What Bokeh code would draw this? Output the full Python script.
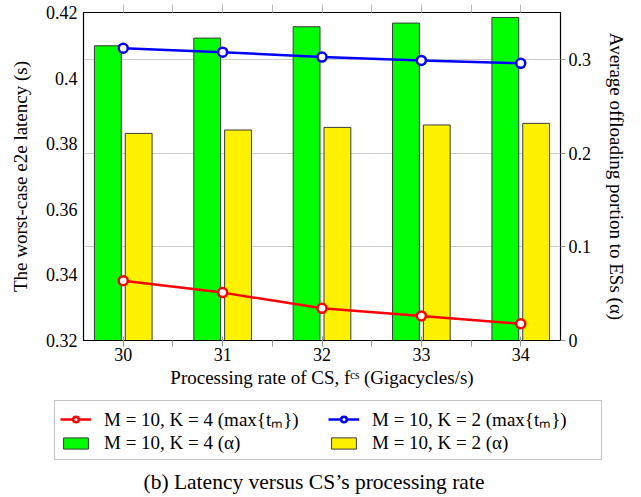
import math
from bokeh.plotting import figure
from bokeh.layouts import column
from bokeh.models import (Range1d, LinearAxis, Grid, Legend, LegendItem, Label,
                          FixedTicker, ColumnDataSource, CustomJSTickFormatter)
from bokeh.transform import dodge
from bokeh.embed import file_html
from bokeh.resources import INLINE

# ---- data ----
rates = [30, 31, 32, 33, 34]
latency_k4 = [0.3382, 0.3346, 0.3298, 0.3275, 0.3251]
latency_k2 = [0.4091, 0.4079, 0.4064, 0.4054, 0.4045]
alpha_k4 = [0.3145, 0.3227, 0.3348, 0.3387, 0.3447]
alpha_k2 = [0.2210, 0.2246, 0.2274, 0.2300, 0.2317]
left_ticks = [0.32, 0.34, 0.36, 0.38, 0.40, 0.42]
right_ticks = [0, 0.1, 0.2, 0.3]
x_ticks = rates
x_minor_ticks = [30.5, 31.5, 32.5, 33.5]
labels = ["M = 10, K = 4 (max{tₘ})", "M = 10, K = 2 (max{tₘ})",
          "M = 10, K = 4 (α)", "M = 10, K = 2 (α)"]
x_label = "Processing rate of CS, fᶜˢ (Gigacycles/s)"
y_label = "The worst-case e2e latency (s)"
y2_label = "Average offloading portion to ESs (α)"
caption = "(b) Latency versus CS’s processing rate"

FONT = "Liberation Serif"
TICK_FS = "18px"
LABEL_FS = "19px"
RED, BLUE, GREEN, YELLOW, EDGE = "#ff0000", "#0000ff", "#00ff00", "#fff200", "#3a3a3a"

src = ColumnDataSource(dict(rate=rates, lat4=latency_k4, lat2=latency_k2,
                            a4=alpha_k4, a2=alpha_k2))

p = figure(frame_width=477, frame_height=328, output_backend="svg", toolbar_location=None,
           x_range=Range1d(29.6, 34.4), y_range=Range1d(0.32, 0.42),
           min_border_left=83, min_border_right=81, min_border_top=12,
           min_border_bottom=55, x_axis_location=None, y_axis_location=None)
p.extra_y_ranges = {"right": Range1d(0, 0.35)}
p.outline_line_color = "black"
p.outline_line_width = 1.2
p.xgrid.visible = False
p.ygrid.visible = False
p.background_fill_color = "white"
p.border_fill_color = "white"

fmt = CustomJSTickFormatter(code="return String(Number(tick.toFixed(4)))")

def style_axis(ax):
    ax.major_label_text_font = FONT
    ax.major_label_text_font_size = TICK_FS
    ax.major_label_text_color = "black"
    ax.axis_label_text_font = FONT
    ax.axis_label_text_font_size = LABEL_FS
    ax.axis_label_text_font_style = "normal"
    ax.axis_label_text_color = "black"
    ax.axis_line_color = "black"
    ax.major_tick_line_color = "#999999"
    ax.minor_tick_line_color = "#999999"
    ax.formatter = fmt

# bottom x axis
xaxis = LinearAxis(ticker=FixedTicker(ticks=x_ticks, minor_ticks=x_minor_ticks),
                   axis_label=x_label)
style_axis(xaxis)
xaxis.major_tick_in = 4
xaxis.major_tick_out = 6
xaxis.minor_tick_in = 0
xaxis.minor_tick_out = 6
xaxis.major_label_standoff = 1
xaxis.axis_label_standoff = 3
p.add_layout(xaxis, "below")

# top tick-only axis
top = LinearAxis(ticker=FixedTicker(ticks=x_ticks, minor_ticks=x_minor_ticks))
top.axis_line_color = None
top.major_tick_in = 0
top.major_tick_out = 8
top.minor_tick_in = 0
top.minor_tick_out = 8
top.major_tick_line_color = "#bbbbbb"
top.minor_tick_line_color = "#bbbbbb"
top.major_label_text_font_size = "1px"
top.major_label_text_alpha = 0
top.major_label_standoff = 0
p.add_layout(top, "above")

# left axis
yaxis = LinearAxis(ticker=FixedTicker(ticks=left_ticks, minor_ticks=[]),
                   axis_label=y_label)
style_axis(yaxis)
yaxis.major_tick_in = 0
yaxis.major_tick_out = 0
yaxis.major_label_standoff = 6
yaxis.axis_label_standoff = 12
p.add_layout(yaxis, "left")

# right axis
y2 = LinearAxis(y_range_name="right", ticker=FixedTicker(ticks=right_ticks, minor_ticks=[]),
                axis_label=y2_label)
style_axis(y2)
y2.major_tick_in = 0
y2.major_tick_out = 5
y2.major_label_standoff = 3
y2.axis_label_standoff = 12
p.add_layout(y2, "right")

# horizontal grid following the right axis
p.add_layout(Grid(dimension=1, ticker=FixedTicker(ticks=right_ticks), y_range_name="right",
                  grid_line_color="#cccccc", grid_line_width=1))

# bars (alpha, right axis)
p.vbar(x=dodge("rate", -0.155, range=p.x_range), width=0.27, top="a4", bottom=0,
       source=src, y_range_name="right", fill_color=GREEN, line_color=EDGE, line_width=1)
p.vbar(x=dodge("rate", 0.155, range=p.x_range), width=0.27, top="a2", bottom=0,
       source=src, y_range_name="right", fill_color=YELLOW, line_color=EDGE, line_width=1)

# lines (latency, left axis)
p.line("rate", "lat4", source=src, line_color=RED, line_width=2.5)
p.scatter("rate", "lat4", source=src, marker="circle", size=9, fill_color="white",
          line_color=RED, line_width=2.5)
p.line("rate", "lat2", source=src, line_color=BLUE, line_width=2.5)
p.scatter("rate", "lat2", source=src, marker="circle", size=9, fill_color="white",
          line_color=BLUE, line_width=2.5)

# ---- legend + caption strip (its data lies outside its visible range) ----
lf = figure(width=641, height=102, output_backend="svg", toolbar_location=None,
            x_range=Range1d(0, 1), y_range=Range1d(0, 1),
            min_border=0, x_axis_location=None, y_axis_location=None)
lf.frame_align = False
lf.outline_line_color = None
lf.xgrid.visible = False
lf.ygrid.visible = False
r4 = [lf.line("rate", "lat4", source=src, line_color=RED, line_width=2.5),
      lf.scatter("rate", "lat4", source=src, marker="circle", size=9, fill_color="white",
                 line_color=RED, line_width=2.5)]
r2 = [lf.line("rate", "lat2", source=src, line_color=BLUE, line_width=2.5),
      lf.scatter("rate", "lat2", source=src, marker="circle", size=9, fill_color="white",
                 line_color=BLUE, line_width=2.5)]
g4 = lf.vbar(x="rate", top="a4", width=0.27, source=src, fill_color=GREEN, line_color=EDGE)
g2 = lf.vbar(x="rate", top="a2", width=0.27, source=src, fill_color=YELLOW, line_color=EDGE)

legend = Legend(items=[LegendItem(label=labels[0], renderers=r4),
                       LegendItem(label=labels[1], renderers=r2),
                       LegendItem(label=labels[2], renderers=[g4]),
                       LegendItem(label=labels[3], renderers=[g2])],
                orientation="horizontal", ncols=2, location=(54, 37))
legend.label_text_font = FONT
legend.label_text_font_size = LABEL_FS
legend.label_text_color = "black"
legend.glyph_width = 31
legend.glyph_height = 14
legend.label_height = 20
legend.label_width = 224
legend.label_standoff = 13
legend.spacing = 0
legend.padding = 5
legend.margin = 0
legend.border_line_color = "#888888"
legend.border_line_width = 1.5
legend.background_fill_color = "white"
lf.add_layout(legend, "center")

lf.add_layout(Label(x=143, y=16, x_units="screen", y_units="screen", text=caption,
                    text_align="left", text_baseline="middle",
                    text_font=FONT, text_font_size="21.5px", text_color="black"))

layout = column(p, lf, spacing=0)
open("out.html", "w").write(file_html(layout, INLINE))
